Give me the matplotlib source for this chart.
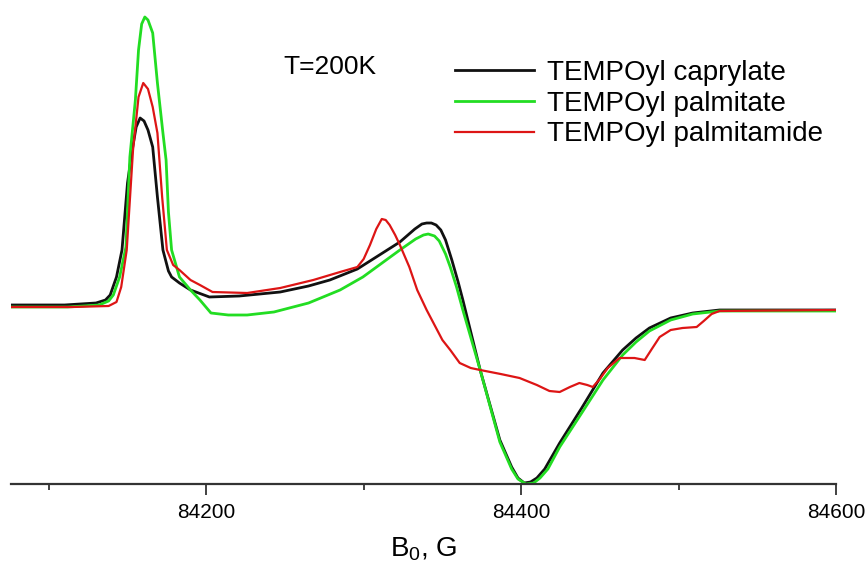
import numpy as np
import matplotlib
matplotlib.use('Agg')
import matplotlib.pyplot as plt
from matplotlib.ticker import FixedLocator

plt.rcParams['font.family'] = ['Liberation Sans', 'DejaVu Sans']
plt.rcParams['mathtext.fontset'] = 'custom'
plt.rcParams['mathtext.rm'] = 'Liberation Sans'

# ----------- data (field in G, signal in arb. units) -----------
caprylate_x = [84076, 84110, 84130, 84136, 84139, 84143, 84146.5, 84150, 84153, 84155.5,
               84158, 84160.5, 84163, 84166, 84169, 84172.5, 84176, 84178, 84183, 84190,
               84202, 84221, 84247, 84265, 84278.5, 84296, 84310, 84323, 84332.5, 84337,
               84340, 84343, 84346, 84349, 84352, 84356, 84360, 84363, 84374, 84386.5,
               84394, 84398, 84402, 84406, 84410, 84415, 84424.5, 84438.5, 84452, 84464.5,
               84473, 84481.5, 84495, 84509, 84526, 84560, 84600]
caprylate_y = [2, 2, 4, 7, 12, 30, 57, 124, 157, 180,
               189, 186, 177, 160, 110, 57, 36, 30, 24, 17,
               10, 11, 15, 21, 27, 38, 52, 65, 78, 83,
               84, 84, 82, 77, 67, 47, 25, 7, -63, -133,
               -160, -171, -176, -175, -171, -162, -136, -101, -66, -43,
               -31, -21, -11, -6, -3, -3, -3]

palmitate_x = [84076, 84112, 84132, 84138, 84141, 84145, 84149, 84151.5, 84155, 84157,
               84159, 84161, 84163, 84166, 84169, 84172.5, 84174.5, 84176, 84178, 84183,
               84190, 84196, 84203, 84214, 84226, 84243, 84265, 84285, 84299.5, 84323,
               84333, 84338, 84341, 84345, 84348, 84352, 84355, 84359, 84363, 84374,
               84386.5, 84394, 84398, 84403, 84408, 84412, 84417, 84424.5, 84438.5, 84452,
               84464.5, 84473, 84481.5, 84495, 84509, 84526, 84600]
palmitate_y = [0, 0, 2, 6, 12, 30, 60, 150, 207, 257,
               283, 290, 287, 274, 224, 174, 147, 95, 57, 30,
               17, 7, -6, -8, -8, -5, 4, 17, 30, 57,
               68, 72, 73, 71, 66, 53, 40, 20, -3, -63,
               -135, -162, -172, -177, -176, -171, -162, -140, -106, -73,
               -48, -35, -24, -13, -7, -4, -4]

palmitamide_x = [84076, 84115, 84138, 84143, 84146, 84149.5, 84153.5, 84157, 84160, 84163,
                 84166, 84169, 84172, 84175, 84179, 84183, 84190, 84196, 84204, 84226,
                 84247, 84268, 84285, 84296, 84300, 84304, 84308, 84311.5, 84314, 84316.5,
                 84320, 84323, 84329, 84334, 84340, 84346, 84350, 84355, 84361, 84368,
                 84374, 84387, 84399, 84410, 84418, 84424.5, 84431, 84437, 84442, 84445.5,
                 84450, 84455, 84462.5, 84472, 84478.5, 84483, 84488, 84495, 84502.5, 84511.5,
                 84516, 84521, 84526, 84600]
palmitamide_y = [0, 0, 1, 5, 20, 57, 157, 210, 224, 218,
                 200, 174, 110, 57, 42, 37, 27, 22, 15, 14,
                 19, 27, 35, 40, 48, 62, 78, 88, 87, 82,
                 72, 62, 40, 17, -3, -21, -33, -43, -56, -61,
                 -63, -67, -71, -78, -84, -85, -80, -76, -78, -80,
                 -72, -61, -51, -51, -53, -42, -30, -23, -21, -20,
                 -14, -7, -4, -3]

series_labels = ['TEMPOyl caprylate', 'TEMPOyl palmitate', 'TEMPOyl palmitamide']
series_colors = ['#111111', '#22dd22', '#dd1515']
major_ticks = [84200, 84400, 84600]
minor_ticks = [84100, 84300, 84500]

fig = plt.figure(figsize=(8.65, 5.71), dpi=100)
ax = fig.add_axes([11 / 865, 87 / 571, 825 / 865, 484 / 571])

ax.plot(caprylate_x, caprylate_y, color=series_colors[0], lw=2.0, label=series_labels[0])
ax.plot(palmitate_x, palmitate_y, color=series_colors[1], lw=2.0, label=series_labels[1])
ax.plot(palmitamide_x, palmitamide_y, color=series_colors[2], lw=1.6, label=series_labels[2])

ax.set_xlim(84076, 84600)
ax.set_ylim(-177, 307)

for side in ['top', 'right', 'left']:
    ax.spines[side].set_visible(False)
ax.spines['bottom'].set_color('#333333')
ax.spines['bottom'].set_linewidth(1.6)
ax.set_yticks([])
ax.xaxis.set_major_locator(FixedLocator(major_ticks))
ax.xaxis.set_minor_locator(FixedLocator(minor_ticks))
ax.tick_params(axis='x', which='major', direction='out', length=8, width=1.3,
               color='#333333', labelsize=15, pad=6)
ax.tick_params(axis='x', which='minor', direction='out', length=4.5, width=1.3, color='#333333')
ax.set_xlabel(r'B$_\mathrm{0}$, G', fontsize=20, labelpad=9)

ax.text(283 / 865, 1 - 67 / 571, 'T=200K', transform=fig.transFigure, fontsize=19, va='center')

ax.legend(loc='upper left', bbox_to_anchor=(455 / 865, 1 - 60 / 571),
          bbox_transform=fig.transFigure, frameon=False, fontsize=20,
          handlelength=2.85, handletextpad=0.45, labelspacing=0.17,
          borderpad=0, borderaxespad=0)

fig.savefig('out.png', dpi=100)
